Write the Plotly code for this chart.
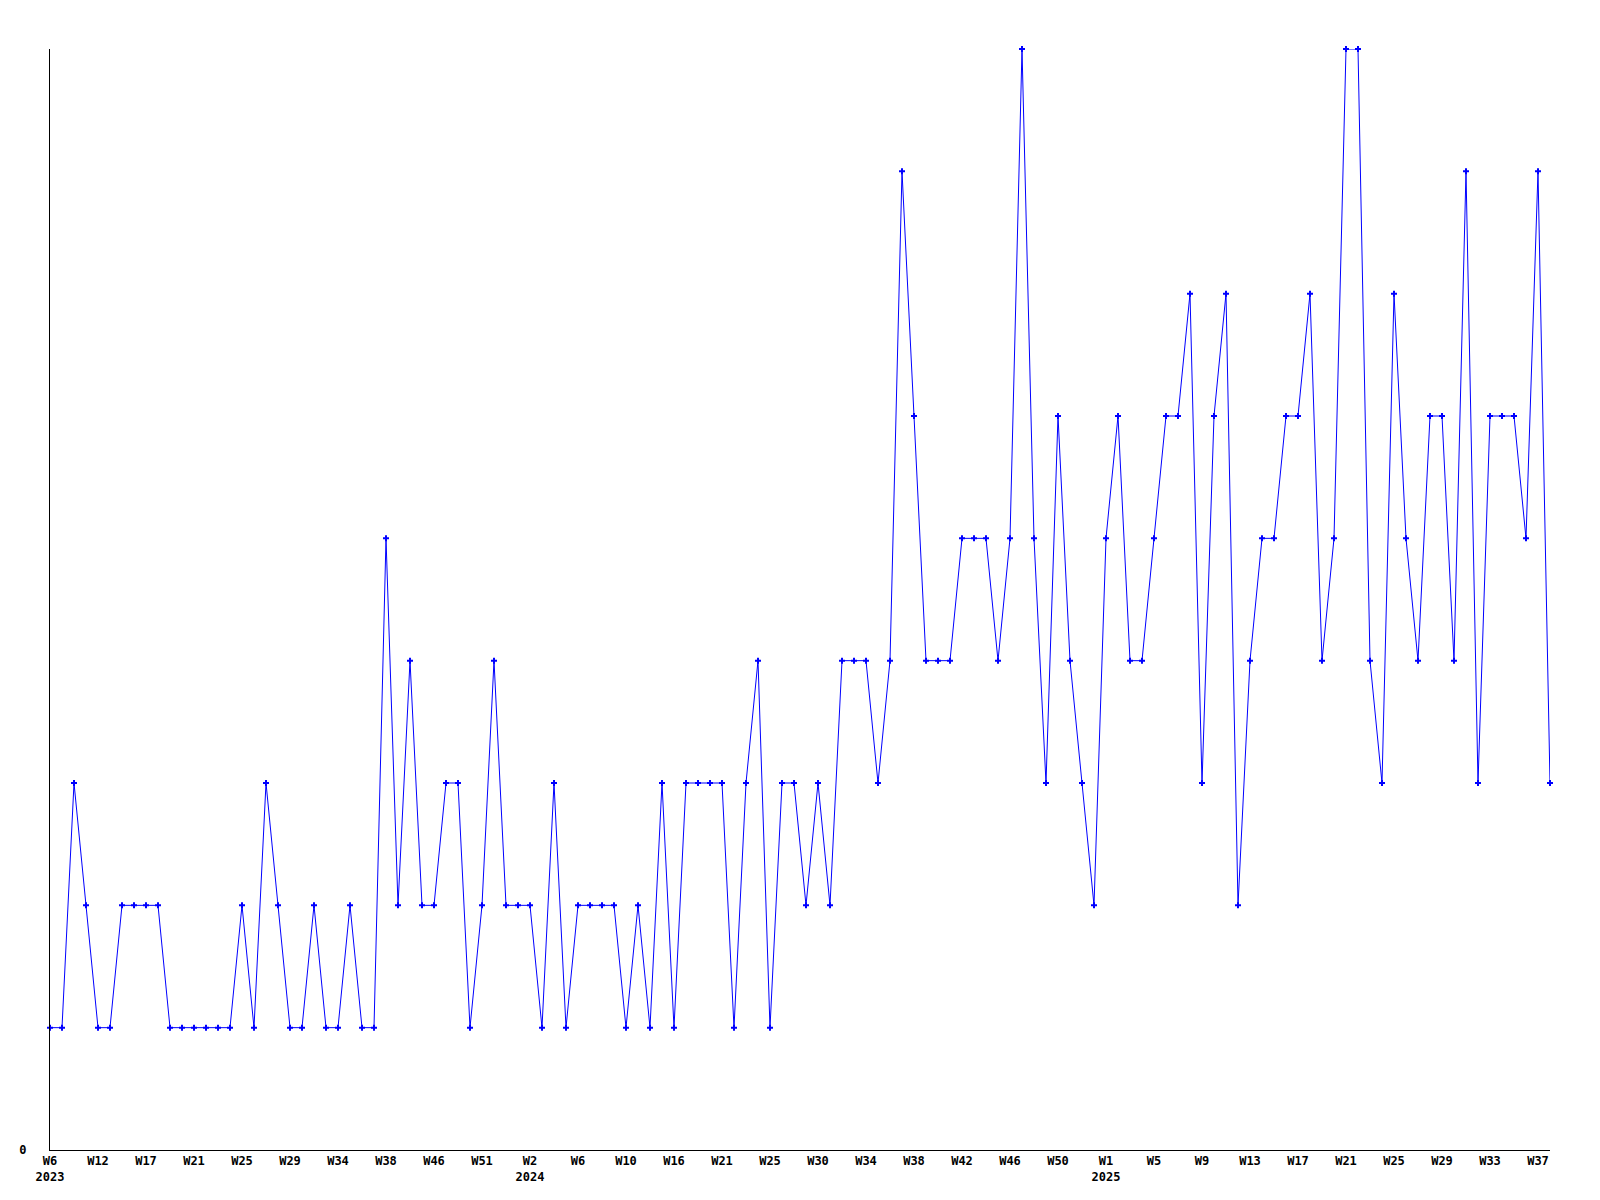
import plotly.graph_objects as go

values = [
    1, 1, 3, 2, 1, 1, 2, 2, 2, 2,
    1, 1, 1, 1, 1, 1, 2, 1, 3, 2,
    1, 1, 2, 1, 1, 2, 1, 1, 5, 2,
    4, 2, 2, 3, 3, 1, 2, 4, 2, 2,
    2, 1, 3, 1, 2, 2, 2, 2, 1, 2,
    1, 3, 1, 3, 3, 3, 3, 1, 3, 4,
    1, 3, 3, 2, 3, 2, 4, 4, 4, 3,
    4, 8, 6, 4, 4, 4, 5, 5, 5, 4,
    5, 9, 5, 3, 6, 4, 3, 2, 5, 6,
    4, 4, 5, 6, 6, 7, 3, 6, 7, 2,
    4, 5, 5, 6, 6, 7, 4, 5, 9, 9,
    4, 3, 7, 5, 4, 6, 6, 4, 8, 3,
    6, 6, 6, 5, 8, 3,
]

tick_labels = [
    "W6<br>2023", "W12", "W17", "W21", "W25", "W29", "W34", "W38", "W46", "W51",
    "W2<br>2024", "W6", "W10", "W16", "W21", "W25", "W30", "W34", "W38", "W42",
    "W46", "W50", "W1<br>2025", "W5", "W9", "W13", "W17", "W21", "W25", "W29",
    "W33", "W37",
]
tick_step = 4

x = list(range(len(values)))
tickvals = [i * tick_step for i in range(len(tick_labels))]

fig = go.Figure()
fig.add_trace(go.Scatter(
    x=x, y=values, mode="lines+markers",
    line=dict(color="#0000ff", width=1),
    marker=dict(symbol="cross", size=5, color="#0000ff", line=dict(width=0)),
    cliponaxis=False,
    showlegend=False,
))

font = dict(family="DejaVu Sans Mono", size=12, color="black")

fig.update_layout(
    width=1600, height=1200,
    margin=dict(l=42, r=58, t=41, b=58, autoexpand=False),
    paper_bgcolor="white", plot_bgcolor="white",
    font=font,
    xaxis=dict(
        range=[0, len(values) - 1],
        tickvals=tickvals, ticktext=["<b>" + t.replace("<br>", "</b><br><b>") + "</b>" for t in tick_labels],
        showgrid=False, zeroline=False, showline=True, linecolor="black", linewidth=1,
        ticks="", ticklabelstandoff=0, tickangle=0,
    ),
    yaxis=dict(
        range=[0, 9], tickvals=[0], ticktext=["<b>0</b>"],
        showgrid=False, zeroline=False, showline=True, linecolor="black", linewidth=1,
        ticks="", ticklabelstandoff=20,
    ),
)

fig.write_html("out.html")
